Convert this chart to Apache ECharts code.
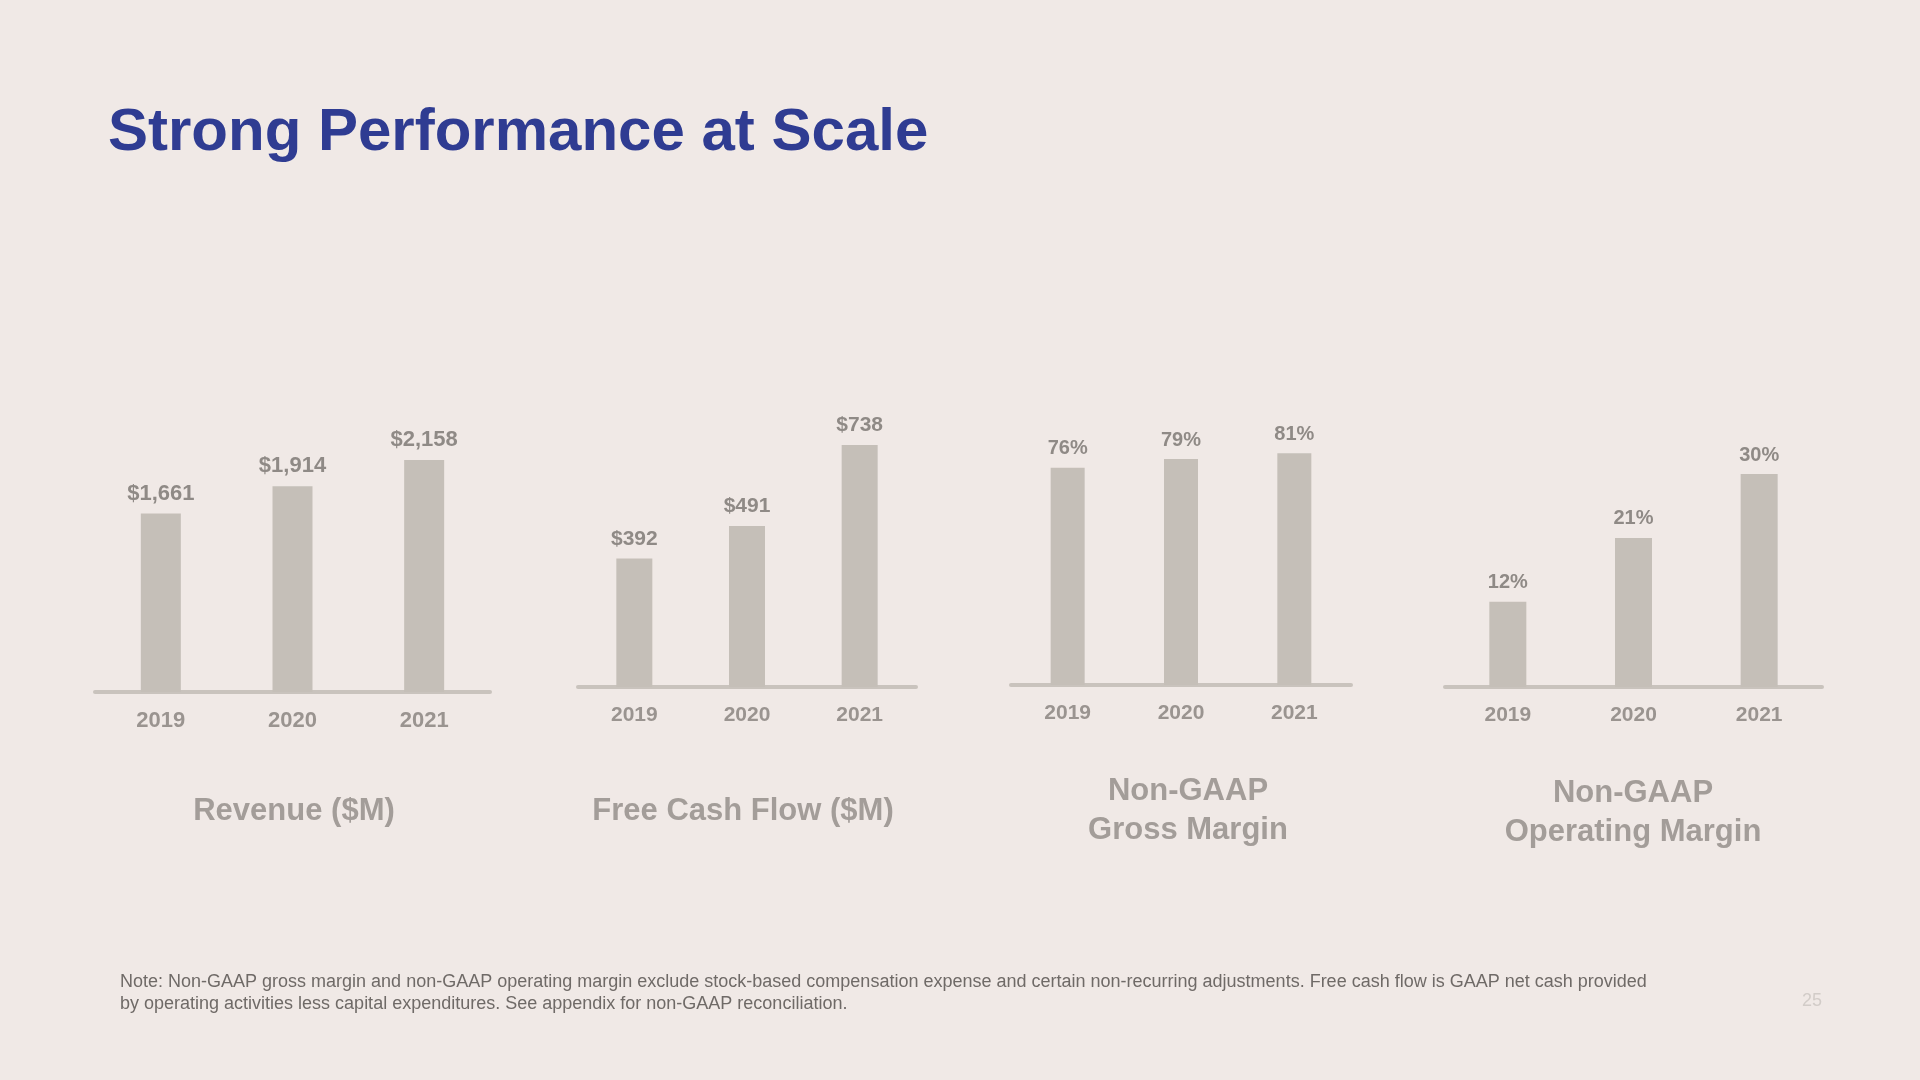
<!DOCTYPE html>
<html>
<head>
<meta charset="utf-8">
<title>Strong Performance at Scale</title>
<script src="https://cdn.jsdelivr.net/npm/echarts@6/dist/echarts.min.js"></script>
<style>
  html, body { margin: 0; padding: 0; background: #f0e9e6; }
  #chart { width: 1920px; height: 1080px; }
</style>
</head>
<body>
<div id="chart"></div>
<script>
// data
const years = ['2019', '2020', '2021']
const revenue = [1661, 1914, 2158]
const freeCashFlow = [392, 491, 738]
const grossMargin = [76, 79, 81]
const operatingMargin = [12, 21, 30]

const panelTitles = ['Revenue ($M)', 'Free Cash Flow ($M)', 'Non-GAAP\nGross Margin', 'Non-GAAP\nOperating Margin']

const FONT = '"Liberation Sans", Arial, Helvetica, sans-serif'
const BAR = '#c5bfb8'
const AXIS = '#c9c3bd'
const LABEL = '#8f8a86'

const money = v => '$' + v.value.toLocaleString('en-US')
const pct = v => v.value + '%'

// each panel: left/right edge of the baseline, top of the grid, baseline y, axis max
const panels = [
  { data: revenue, left: 95, right: 490, top: 391, bottom: 692, max: 2800, fmt: money, bar: 40, fs: 22, yfs: 22 },
  { data: freeCashFlow, left: 578, right: 916, top: 392, bottom: 687, max: 900, fmt: money, bar: 36, fs: 21, yfs: 21 },
  { data: grossMargin, left: 1011, right: 1351, top: 399, bottom: 685, max: 100, fmt: pct, bar: 34, fs: 20, yfs: 21 },
  { data: operatingMargin, left: 1445, right: 1822, top: 403, bottom: 687, max: 40, fmt: pct, bar: 37, fs: 20, yfs: 21 }
]

const titleCenters = [
  { x: 289, y: 806 },
  { x: 738, y: 806 },
  { x: 1183, y: 806 },
  { x: 1628, y: 808 }
]

const chart = echarts.init(document.getElementById('chart'))

const option = {
  backgroundColor: '#f0e9e6',
  animation: false,
  title: [
    {
      text: 'Strong Performance at Scale',
      left: 103,
      top: 98,
      textStyle: { fontFamily: FONT, fontSize: 60, fontWeight: 'bold', color: '#2f3c92' }
    }
  ].concat(panelTitles.map((t, i) => ({
    text: t,
    left: titleCenters[i].x,
    top: titleCenters[i].y,
    textAlign: 'center',
    textVerticalAlign: 'middle',
    textStyle: {
      fontFamily: FONT,
      fontSize: 31,
      fontWeight: 'bold',
      color: '#a39d99',
      lineHeight: 39
    }
  }))),
  grid: panels.map(p => ({
    left: p.left,
    width: p.right - p.left,
    top: p.top,
    height: p.bottom - p.top
  })),
  xAxis: panels.map((p, i) => ({
    type: 'category',
    gridIndex: i,
    data: years,
    axisLine: { lineStyle: { color: AXIS, width: 4 } },
    axisTick: { show: false },
    axisLabel: {
      margin: 18,
      fontFamily: FONT,
      fontSize: p.yfs,
      fontWeight: 'bold',
      color: '#9a9490'
    }
  })),
  yAxis: panels.map((p, i) => ({
    type: 'value',
    gridIndex: i,
    min: 0,
    max: p.max,
    show: false,
    splitLine: { show: false }
  })),
  series: panels.map((p, i) => ({
    type: 'bar',
    xAxisIndex: i,
    yAxisIndex: i,
    data: p.data,
    barWidth: p.bar,
    itemStyle: { color: BAR },
    label: {
      show: true,
      position: 'top',
      distance: 9,
      formatter: p.fmt,
      fontFamily: FONT,
      fontSize: p.fs,
      fontWeight: 'bold',
      color: LABEL
    }
  })),
  graphic: [
    {
      type: 'text',
      left: 120,
      top: 971,
      style: {
        text: 'Note: Non-GAAP gross margin and non-GAAP operating margin exclude stock-based compensation expense and certain non-recurring adjustments. Free cash flow is GAAP net cash provided\nby operating activities less capital expenditures. See appendix for non-GAAP reconciliation.',
        font: '18px "Liberation Sans", Arial, sans-serif',
        fill: '#6f6a67',
        lineHeight: 22
      }
    },
    {
      type: 'text',
      left: 1802,
      top: 992,
      style: {
        text: '25',
        font: '18px "Liberation Sans", Arial, sans-serif',
        fill: '#d2ccc8'
      }
    }
  ]
}

chart.setOption(option)
window.addEventListener('resize', () => chart.resize())
</script>
</body>
</html>
